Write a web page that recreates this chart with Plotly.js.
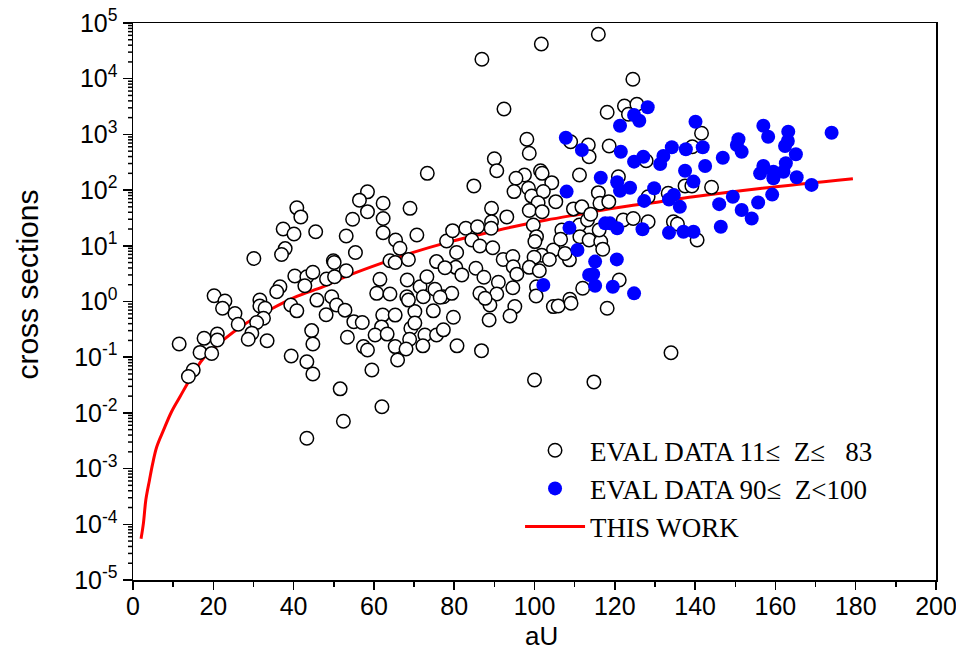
<!DOCTYPE html>
<html><head><meta charset="utf-8">
<script src="https://cdn.plot.ly/plotly-3.0.1.min.js"></script>
<style>html,body{margin:0;padding:0;background:#fff}</style>
</head><body><div id="chart" style="width:956px;height:652px"></div>
<script>
// EVAL DATA 11<=Z<=83 (open circles)
const openX = [58.4,56.4,62.3,58.4,62.3,54.7,40.8,41.8,37.4,40.1,45.5,53.1,62.3,65.4,66.5,37.9,37.0,30.1,55.4,49.9,50.1,64.0,65.3,53.1,61.5,40.3,43.3,44.8,42.8,48.2,50.2,60.7,64.0,36.6,35.8,20.2,22.9,31.6,45.8,49.5,
22.3,25.4,26.2,31.6,32.9,32.5,30.8,29.6,28.7,33.4,39.3,40.8,50.7,52.8,48.1,55.0,57.1,62.2,65.3,61.9,60.3,63.3,65.3,65.9,17.7,21.0,21.0,16.7,19.6,11.5,15.0,13.8,44.5,44.8,39.4,43.3,44.8,53.4,57.4,58.4,59.5,51.6,62.0,52.4,43.3,
115.9,101.7,86.9,124.5,92.4,118.1,122.4,125.5,123.4,98.1,98.7,109.0,113.4,113.6,118.6,127.8,90.0,90.6,73.3,84.9,97.5,95.4,101.5,101.9,111.2,104.3,98.5,94.9,99.3,102.2,100.9,105.3,98.7,101.9,89.3,93.1,89.3,89.2,69.0,70.7,68.6,68.3,71.5,73.2,75.2,77.3,68.2,72.3,75.6,78.1,79.6,80.6,82.9,85.8,84.4,86.4,89.6,80.4,77.7,81.9,85.4,87.4,91.0,92.2,94.6,94.7,95.6,94.6,90.6,86.4,79.4,
99.7,100.5,100.1,104.7,101.8,99.9,98.7,101.2,100.5,103.7,106.8,106.5,109.7,111.8,111.2,113.2,114.0,115.9,116.3,118.5,111.3,113.6,116.5,117.0,108.7,107.6,116.1,122.1,124.6,128.3,120.9,112.0,121.1,108.8,
95.1,93.9,88.7,88.9,79.8,74.8,70.2,69.2,70.2,72.7,68.9,75.6,77.3,68.0,72.2,80.7,86.8,100.0,114.8,104.7,105.9,109.1,118.1,100.4,68.6,76.5,87.7,
141.6,128.3,133.3,137.5,139.2,144.1,139.3,134.6,135.6,140.5,134.0];
const openY = [93,66,58,41,31,30,48,33,20,16.3,17.9,15,17.2,12.7,9.0,8.9,7.0,5.9,7.6,5.4,5.0,5.4,5.0,3.57,2.5,2.87,2.79,3.34,1.92,2.53,2.79,1.40,1.36,1.84,1.50,1.27,1.02,1.06,1.06,1.22,
0.755,0.61,0.39,0.83,0.755,0.50,0.42,0.27,0.21,0.198,0.865,0.68,0.865,0.70,0.58,0.435,0.42,0.57,0.57,0.35,0.25,0.26,0.155,0.089,0.218,0.26,0.204,0.122,0.117,0.173,0.059,0.045,0.30,0.173,0.105,0.083,0.050,0.228,0.155,0.135,0.059,0.027,0.0129,0.0071,0.0035,
63000,42000,22300,9750,2860,2500,3240,3470,2300,817,458,740,645,398,619,337,366,223,200,119,187,163,223,200,187,136,108,94,78,94,59,62,43,41,47,33,27,20.6,47,15.6,5.7,2.43,1.84,2.79,1.66,1.22,1.22,1.22,5.2,12.2,18.7,7.6,20.6,22,12.7,9.9,9.2,4.1,4.05,3.0,3.95,2.72,2.21,5.7,6.4,4.2,3.1,1.77,1.36,1.40,1.40,
23.6,14.6,11.9,8.4,6.8,6.2,4.1,3.57,1.84,5.7,19.2,13.1,46,50,23.6,29,37,90,58,62,14.6,12.7,11.9,8.7,5.6,7.3,19.2,29,31,27,174,1.73,2.43,1.1,
0.81,0.55,0.466,0.865,0.52,0.68,0.66,0.33,0.41,0.25,0.21,0.25,0.31,0.14,0.16,0.16,0.131,0.039,0.036,0.81,0.83,0.93,0.755,1.26,1.06,1.19,1.14,
1050,76,88,119,119,112,601,27,24.6,12.7,0.12];

// EVAL DATA 90<=Z<100 (blue dots)
const blueX = [128.2,124.8,126.1,121.3,107.8,111.8,121.5,124.8,127.1,131.3,116.5,120.6,121.3,123.8,108.0,129.8,127.3,108.7,117.6,118.8,120.6,126.9,110.7,115.1,120.5,113.6,114.6,115.1,119.5,124.8,102.2,
140.1,132.1,134.2,137.7,141.9,137.5,142.5,146.9,150.8,150.4,151.6,157.0,158.2,163.2,163.1,162.4,165.1,162.6,162.0,157.0,156.2,159.5,159.5,165.3,169.0,174.0,134.7,133.5,136.2,146.0,149.4,151.6,154.1,155.7,159.2,139.6,146.4,133.5,137.1,139.6];
const blueY = [3070,2230,1760,1430,873,525,489,324,398,294,167,138,97.5,110,94,108,64,21,25.3,25.3,20.6,19.8,8.4,5.2,5.7,3.0,3.1,1.92,1.84,1.40,1.98,
1690,410,587,540,587,223,271,382,817,645,489,1430,910,1120,762,619,440,303,214,271,200,214,163,170,124,1070,82,68,50,56,76,44,31,60,83,142,22,17.2,17.9,17.9];

// THIS WORK (red curve)
const curveX = [2.0,2.6,3.2,4.1,4.9,5.9,7.6,9.6,11.7,13.8,17.5,22.5,27.5,34.1,40.8,47.4,54.0,62.3,69.8,78.1,86.4,94.7,103.0,111.3,119.6,131.3,139.6,156.2,179.3];
const curveY = [5.5e-5,1.05e-4,2.75e-4,6.2e-4,1.23e-3,2.45e-3,4.9e-3,0.0105,0.0195,0.036,0.095,0.204,0.38,0.71,1.23,1.85,3.0,5.0,7.6,11.4,16,22,29,37,47,62,76,107,160];

const yTickVals = [1e-5,1e-4,1e-3,1e-2,1e-1,1,10,100,1e3,1e4,1e5];
const yTickText = ['10<sup>-5</sup>','10<sup>-4</sup>','10<sup>-3</sup>','10<sup>-2</sup>','10<sup>-1</sup>','10<sup>0</sup>','10<sup>1</sup>','10<sup>2</sup>','10<sup>3</sup>','10<sup>4</sup>','10<sup>5</sup>'];
const xTickVals = [0,20,40,60,80,100,120,140,160,180,200];
const xTickText = ['0','20','40','60','80','100','120','140','160','180','200'];
const seriesNames = ['EVAL DATA 11\u2264  Z\u2264   83', 'EVAL DATA 90\u2264  Z<100', 'THIS WORK'];
const xTitle = 'aU';
const yTitle = 'cross sections';
const yRangeExp = [-5, 5];

// minor ticks of the log axis (2..9 in every decade), drawn as short lines left of the axis
const minorTickShapes = [];
for (let d = yRangeExp[0]; d < yRangeExp[1]; d++) {
  for (let k = 2; k <= 9; k++) {
    const frac = (Math.log10(k * Math.pow(10, d)) - yRangeExp[0]) / (yRangeExp[1] - yRangeExp[0]);
    minorTickShapes.push({type: 'line', xref: 'paper', yref: 'paper', xsizemode: 'pixel', xanchor: 0,
      x0: -5, x1: 0, y0: frac, y1: frac, layer: 'above', line: {color: '#000', width: 1.5}});
  }
}

const sansFont = 'Liberation Sans, Arial, sans-serif';

const traces = [
  {x: curveX, y: curveY, type: 'scatter', mode: 'lines', name: seriesNames[2], legendrank: 3,
   line: {color: '#ff0000', width: 3, shape: 'spline'}},
  {x: openX, y: openY, type: 'scatter', mode: 'markers', name: seriesNames[0], legendrank: 1,
   marker: {symbol: 'circle', size: 13.5, color: '#ffffff', line: {color: '#000000', width: 1.5}}},
  {x: blueX, y: blueY, type: 'scatter', mode: 'markers', name: seriesNames[1], legendrank: 2,
   marker: {symbol: 'circle', size: 14, color: '#0000ff', line: {width: 0}}}
];

const layout = {
  width: 956, height: 652,
  margin: {l: 133, r: 20, t: 23, b: 72},
  paper_bgcolor: '#ffffff', plot_bgcolor: '#ffffff',
  showlegend: true,
  legend: {x: 0.482, y: 0.276, xanchor: 'left', yanchor: 'top', bgcolor: 'rgba(0,0,0,0)',
           font: {family: 'Liberation Serif, Times New Roman, serif', size: 27, color: '#000'},
           itemwidth: 60, tracegroupgap: 0},
  xaxis: {range: [0, 200], tickmode: 'array', tickvals: xTickVals, ticktext: xTickText,
          ticks: 'outside', ticklen: 8, tickwidth: 1.5, tickcolor: '#000', ticklabeloverflow: 'allow',
          ticklabelstandoff: -5,
          minor: {ticks: 'outside', ticklen: 5, tickwidth: 1.5, tickcolor: '#000', dtick: 10, tick0: 0},
          showline: true, linecolor: '#000', linewidth: 1.5, mirror: true, showgrid: false, zeroline: false,
          tickfont: {family: sansFont, size: 25, color: '#000'}},
  yaxis: {type: 'log', range: yRangeExp, tickmode: 'array', tickvals: yTickVals, ticktext: yTickText,
          ticks: 'outside', ticklen: 9, tickwidth: 1.5, tickcolor: '#000', ticklabeloverflow: 'allow',
          showline: true, linecolor: '#000', linewidth: 1.5, mirror: true, showgrid: false, zeroline: false,
          tickfont: {family: sansFont, size: 25, color: '#000'}},
  shapes: minorTickShapes,
  annotations: [
    {text: xTitle, xref: 'paper', yref: 'paper', x: 0.509, y: -0.1, xanchor: 'center', yanchor: 'middle',
     showarrow: false, font: {family: sansFont, size: 26, color: '#000'}},
    {text: yTitle, xref: 'paper', yref: 'paper', x: -0.131, y: 0.53, xanchor: 'center', yanchor: 'middle',
     textangle: -90, showarrow: false, font: {family: sansFont, size: 30, color: '#000'}}
  ]
};

Plotly.newPlot('chart', traces, layout, {displayModeBar: false, staticPlot: true});
</script></body></html>
